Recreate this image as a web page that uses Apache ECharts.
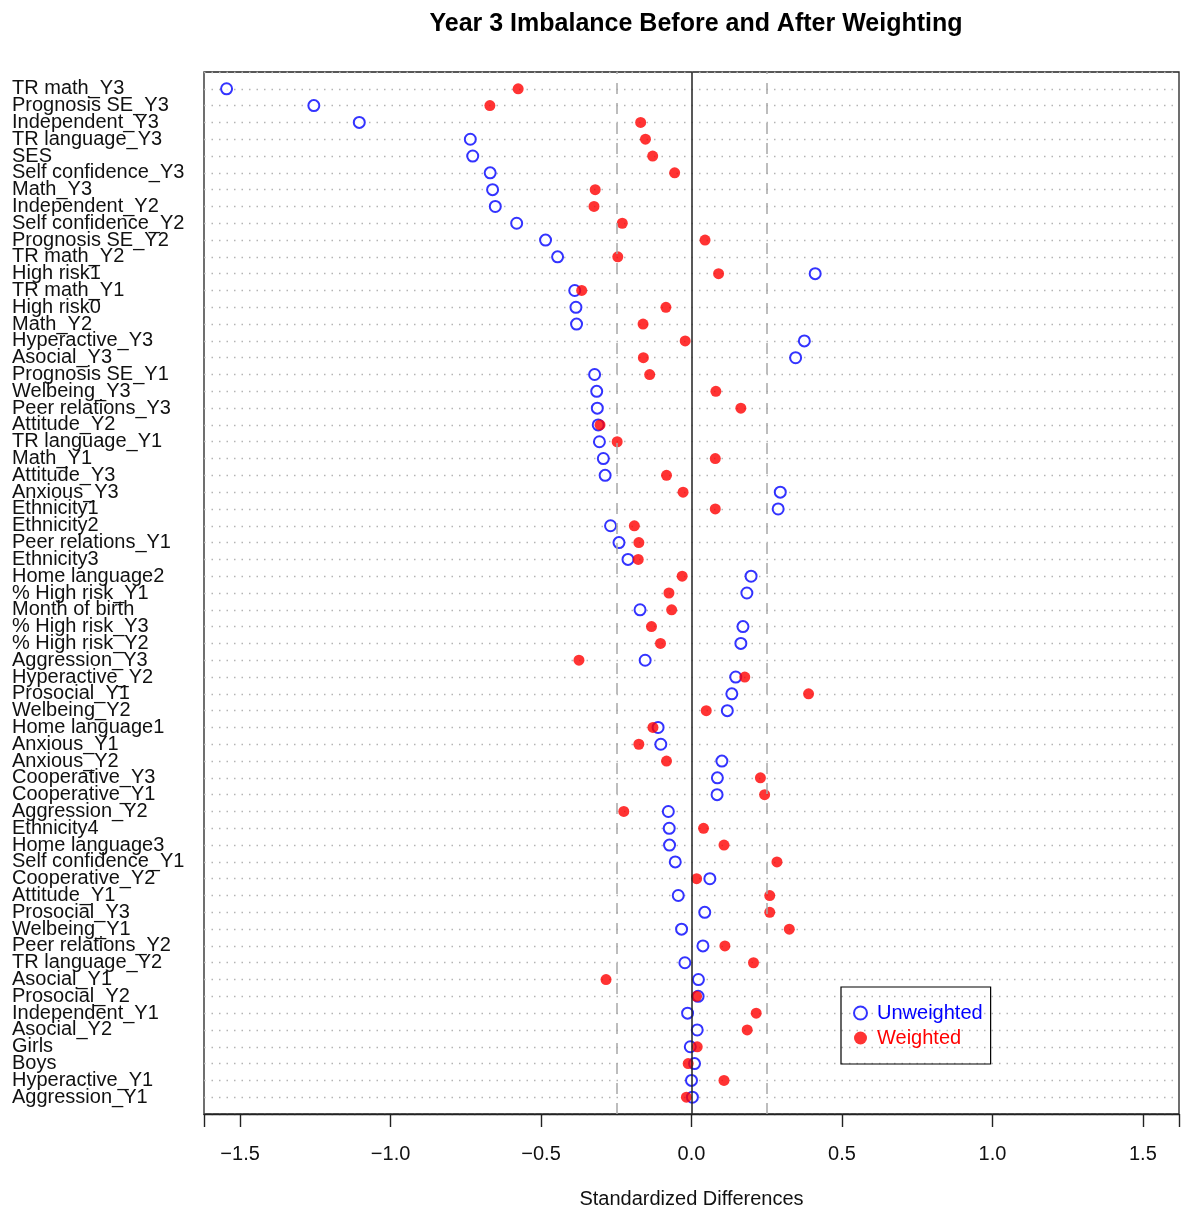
<!DOCTYPE html>
<html>
<head>
<meta charset="utf-8">
<script src="https://cdn.jsdelivr.net/npm/echarts@6/dist/echarts.min.js"></script>
<style>
html,body{margin:0;padding:0;background:#fff;}
#chart{width:1182px;height:1214px;}
</style>
</head>
<body>
<div id="chart"></div>
<script>
const categories = [
  "TR math_Y3","Prognosis SE_Y3","Independent_Y3","TR language_Y3","SES",
  "Self confidence_Y3","Math_Y3","Independent_Y2","Self confidence_Y2","Prognosis SE_Y2",
  "TR math_Y2","High risk1","TR math_Y1","High risk0","Math_Y2",
  "Hyperactive_Y3","Asocial_Y3","Prognosis SE_Y1","Welbeing_Y3","Peer relations_Y3",
  "Attitude_Y2","TR language_Y1","Math_Y1","Attitude_Y3","Anxious_Y3",
  "Ethnicity1","Ethnicity2","Peer relations_Y1","Ethnicity3","Home language2",
  "% High risk_Y1","Month of birth","% High risk_Y3","% High risk_Y2","Aggression_Y3",
  "Hyperactive_Y2","Prosocial_Y1","Welbeing_Y2","Home language1","Anxious_Y1",
  "Anxious_Y2","Cooperative_Y3","Cooperative_Y1","Aggression_Y2","Ethnicity4",
  "Home language3","Self confidence_Y1","Cooperative_Y2","Attitude_Y1","Prosocial_Y3",
  "Welbeing_Y1","Peer relations_Y2","TR language_Y2","Asocial_Y1","Prosocial_Y2",
  "Independent_Y1","Asocial_Y2","Girls","Boys","Hyperactive_Y1",
  "Aggression_Y1"
];

const unweighted = [
  -1.545,-1.255,-1.104,-0.735,-0.727,
  -0.669,-0.661,-0.652,-0.581,-0.485,
  -0.445,0.411,-0.388,-0.384,-0.382,
  0.375,0.346,-0.322,-0.315,-0.313,
  -0.310,-0.306,-0.293,-0.287,0.295,
  0.288,-0.269,-0.241,-0.211,0.198,
  0.184,-0.171,0.171,0.164,-0.154,
  0.147,0.134,0.119,-0.111,-0.102,
  0.101,0.086,0.085,-0.077,-0.074,
  -0.073,-0.054,0.061,-0.044,0.044,
  -0.033,0.038,-0.022,0.023,0.022,
  -0.013,0.019,-0.004,0.010,0.000,
  0.003
];

const weighted = [
  -0.576,-0.670,-0.169,-0.153,-0.129,
  -0.056,-0.320,-0.324,-0.230,0.045,
  -0.245,0.090,-0.365,-0.085,-0.161,
  -0.021,-0.160,-0.139,0.081,0.164,
  -0.304,-0.247,0.079,-0.083,-0.028,
  0.079,-0.190,-0.175,-0.177,-0.031,
  -0.075,-0.066,-0.133,-0.103,-0.374,
  0.177,0.389,0.049,-0.128,-0.175,
  -0.083,0.229,0.243,-0.225,0.040,
  0.108,0.284,0.017,0.260,0.260,
  0.325,0.111,0.206,-0.284,0.017,
  0.215,0.185,0.019,-0.011,0.108,
  -0.017
];

const xTicks = [-1.5,-1.0,-0.5,0.0,0.5,1.0,1.5];
const refLines = [-0.25, 0.25];

const FONT = "'Liberation Sans', Arial, Helvetica, sans-serif";
const N = categories.length;
function rowPos(i) { return N - 1 - i; }

const chart = echarts.init(document.getElementById('chart'), null, {renderer:'canvas'});

const option = {
  backgroundColor: '#fff',
  animation: false,
  title: {
    text: 'Year 3 Imbalance Before and After Weighting',
    left: 691,
    textAlign: 'center',
    top: 7,
    textStyle: {fontFamily: FONT, fontSize: 25, fontWeight: 'bold', color: '#000'}
  },
  legend: {
    orient: 'vertical',
    left: 841,
    top: 987,
    padding: [16, 8, 16, 12],
    itemGap: 5,
    itemWidth: 13,
    itemHeight: 13,
    borderColor: '#000',
    borderWidth: 1.2,
    borderRadius: 0,
    selectedMode: false,
    textStyle: {fontFamily: FONT, fontSize: 20, padding: [0, 0, 0, 5]},
    data: [
      {name: 'Unweighted', textStyle: {color: '#0000ff'}},
      {name: 'Weighted', textStyle: {color: '#ff0000'}}
    ]
  },
  grid: {
    left: 204, right: 3, top: 72, bottom: 90,
    show: true, borderColor: '#222', borderWidth: 1.3, backgroundColor: 'transparent'
  },
  xAxis: {
    type: 'value',
    position: 'bottom',
    min: -1.62, max: 1.62,
    splitNumber: 6,
    name: 'Standardized Differences',
    nameLocation: 'middle',
    nameGap: 75,
    nameTextStyle: {fontFamily: FONT, fontSize: 20, color: '#111'},
    axisLine: {show: true, onZero: false, lineStyle: {color: '#222', width: 1.3}},
    splitLine: {show: false},
    axisTick: {show: true, length: 13, lineStyle: {color: '#222', width: 1.4}},
    axisLabel: {
      customValues: xTicks,
      margin: 30,
      fontFamily: FONT, fontSize: 20, color: '#111',
      formatter: function (v) { const s = Math.abs(v).toFixed(1); return v < 0 ? '\u2212' + s : s; }
    }
  },
  yAxis: {
    type: 'value',
    min: -1, max: 61, interval: 1,
    axisLine: {show: false, onZero: false},
    axisTick: {show: false},
    splitLine: {show: true, lineStyle: {color: '#b4b4b4', type: [1.5, 6], width: 1.3}},
    axisLabel: {
      align: 'left',
      margin: 192,
      fontFamily: FONT, fontSize: 20, color: '#111',
      lineHeight: 20,
      formatter: function (v) { const i = N - 1 - v; return (i >= 0 && i < N) ? categories[i] : ''; }
    }
  },
  series: [
    {
      name: 'Unweighted',
      type: 'scatter',
      symbol: 'emptyCircle',
      symbolSize: 11,
      itemStyle: {color: '#0000ff', borderColor: '#0000ff', borderWidth: 2},
      data: unweighted.map(function (v, i) { return [v, rowPos(i)]; }),
      z: 3,
      markLine: {
        silent: true,
        symbol: 'none',
        label: {show: false},
        data: refLines.map(function (x) { return {xAxis: x, lineStyle: {color: '#a8a8a8', type: [11, 9], width: 1.5}}; })
          .concat([{xAxis: 0, lineStyle: {color: '#222', type: 'solid', width: 1.5}}])
      }
    },
    {
      name: 'Weighted',
      type: 'scatter',
      symbol: 'circle',
      symbolSize: 11,
      itemStyle: {color: '#ff0000'},
      data: weighted.map(function (v, i) { return [v, rowPos(i)]; }),
      z: 4
    }
  ]
};

chart.setOption(option);
</script>
</body>
</html>
